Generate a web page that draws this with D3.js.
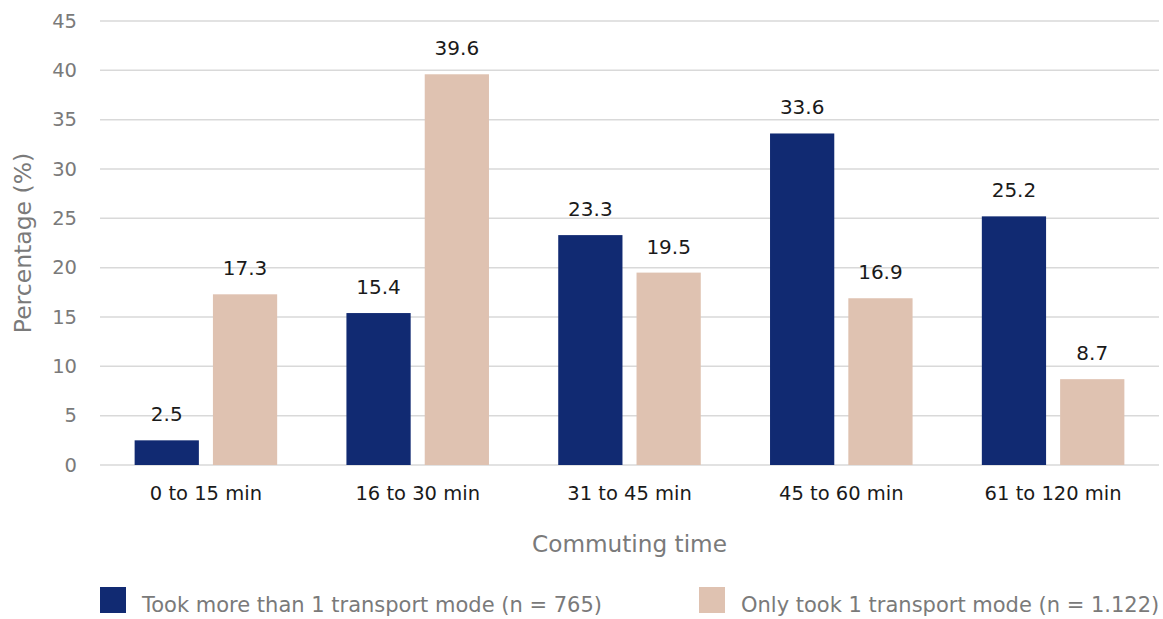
<!DOCTYPE html>
<html>
<head>
<meta charset="utf-8">
<script src="https://cdn.jsdelivr.net/npm/d3@7"></script>
<style>
  html, body { margin: 0; padding: 0; background: #fff; }
  svg { display: block; font-family: "DejaVu Sans", sans-serif; }
</style>
</head>
<body>
<svg id="chart" width="1163" height="619"></svg>
<script>
const categories = ["0 to 15 min", "16 to 30 min", "31 to 45 min", "45 to 60 min", "61 to 120 min"];
const seriesNames = ["Took more than 1 transport mode (n = 765)", "Only took 1 transport mode (n = 1.122)"];
const multiMode = [2.5, 15.4, 23.3, 33.6, 25.2];
const singleMode = [17.3, 39.6, 19.5, 16.9, 8.7];
const yTicks = [0, 5, 10, 15, 20, 25, 30, 35, 40, 45];
const colors = ["#112a72", "#dfc2b1"];

const svg = d3.select("#chart");
const plotL = 100, plotR = 1159, plotT = 21, plotB = 465;

const x = d3.scaleBand().domain(categories).range([plotL, plotR]).paddingInner(0).paddingOuter(0);
const x1 = d3.scaleBand().domain([0, 1]).range([0, x.bandwidth()]).paddingInner(14 / 78).paddingOuter(34.5 / 78);
const y = d3.scaleLinear().domain([0, 45]).range([plotB, plotT]);

// gridlines
svg.append("g").selectAll("line").data(yTicks).join("line")
  .attr("x1", plotL).attr("x2", plotR)
  .attr("y1", d => y(d)).attr("y2", d => y(d))
  .attr("stroke", "#d9d9d9").attr("stroke-width", 1.5);

// y axis labels
const yAxis = d3.axisLeft(y).tickValues(yTicks).tickSize(0).tickPadding(0);
const yg = svg.append("g").attr("transform", `translate(77,0)`).call(yAxis);
yg.select(".domain").remove();
yg.selectAll("text").attr("fill", "#7a7a7a").style("font-size", "19.5px").style("font-family", "DejaVu Sans, sans-serif");

// x axis labels
const xAxis = d3.axisBottom(x).tickSize(0).tickPadding(0);
const xg = svg.append("g").attr("transform", `translate(0,486)`).call(xAxis);
xg.select(".domain").remove();
xg.selectAll("text").attr("fill", "#1a1a1a").style("font-size", "19.5px").style("font-family", "DejaVu Sans, sans-serif");

const series = [multiMode, singleMode];
const rows = [];
series.forEach((vals, si) => vals.forEach((v, ci) => rows.push({ si, cat: categories[ci], v })));

svg.append("g").selectAll("rect").data(rows).join("rect")
  .attr("x", d => x(d.cat) + x1(d.si))
  .attr("width", x1.bandwidth())
  .attr("y", d => y(d.v))
  .attr("height", d => y(0) - y(d.v))
  .attr("fill", d => colors[d.si]);

svg.append("g").selectAll("text").data(rows).join("text")
  .attr("x", d => x(d.cat) + x1(d.si) + x1.bandwidth() / 2)
  .attr("y", d => y(d.v) - 19)
  .attr("text-anchor", "middle")
  .attr("fill", "#1a1a1a")
  .style("font-size", "20px")
  .text(d => d.v.toFixed(1));

// axis titles
svg.append("text")
  .attr("x", (plotL + plotR) / 2).attr("y", 552)
  .attr("text-anchor", "middle").attr("fill", "#7a7a7a")
  .style("font-size", "23.2px").text("Commuting time");

svg.append("text")
  .attr("transform", `translate(31,${(plotT + plotB) / 2}) rotate(-90)`)
  .attr("text-anchor", "middle").attr("fill", "#7a7a7a")
  .style("font-size", "23.5px").text("Percentage (%)");

// legend
const legendX = [100, 699];
const lg = svg.append("g").selectAll("g").data(seriesNames).join("g")
  .attr("transform", (d, i) => `translate(${legendX[i]},587)`);
lg.append("rect").attr("width", 26).attr("height", 26).attr("fill", (d, i) => colors[i]);
lg.append("text").attr("x", 42).attr("y", 25)
  .attr("fill", "#7a7a7a").style("font-size", "21px").text(d => d);
</script>
</body>
</html>
